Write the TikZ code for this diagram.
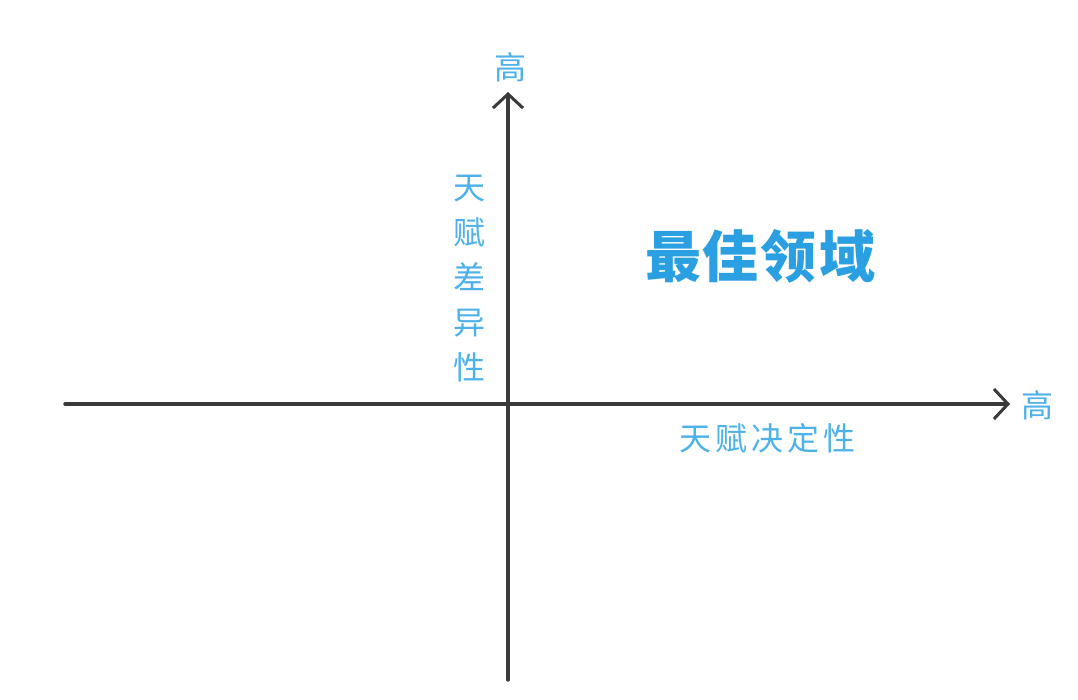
\documentclass[tikz,border=0pt]{standalone}
\usepackage{fontspec}
\newfontfamily\cjk{Noto Sans CJK SC}
\usepackage{tikz}
\usetikzlibrary{arrows.meta,positioning}
\definecolor{axisgray}{HTML}{3A3A3A}
\definecolor{labelblue}{HTML}{4DB2EA}
\definecolor{titleblue}{HTML}{2A9FE2}
\tikzset{
    axis/.style={draw=axisgray,line width=3.4pt,line cap=round,-{Straight Barb[length=14pt,width=30pt,line width=3pt]}},
    lbl/.style={text=labelblue,font=\cjk\fontsize{32}{34}\selectfont,inner sep=0pt}
}
\begin{document}
\begin{tikzpicture}[x=1pt,y=-1pt]
\useasboundingbox[fill=white] (0,0) rectangle (1078,700);
\coordinate (xleft) at (65,404);
\coordinate (xright) at (1010,404);
\coordinate (ybottom) at (508,680);
\coordinate (ytop) at (508,92);
\draw[axis] (xleft) -- (xright);
\draw[axis] (ybottom) -- (ytop);
\node[lbl] (yhigh) at (510,67) {高};
\node[lbl] (xhigh) at (1037,405) {高};
\node[lbl,align=center,font=\cjk\fontsize{32}{45}\selectfont] (ylabel) at (469,279) {天\\赋\\差\\异\\性};
\node[lbl] (xlabel) at (767,438) {天\hspace{4pt}赋\hspace{4pt}决\hspace{4pt}定\hspace{4pt}性};
\node[text=titleblue,font=\cjk\bfseries\fontsize{56}{58}\selectfont,inner sep=0pt] (best) at (760,256) {最\hspace{2pt}佳\hspace{2pt}领\hspace{2pt}域};
\end{tikzpicture}
\end{document}
